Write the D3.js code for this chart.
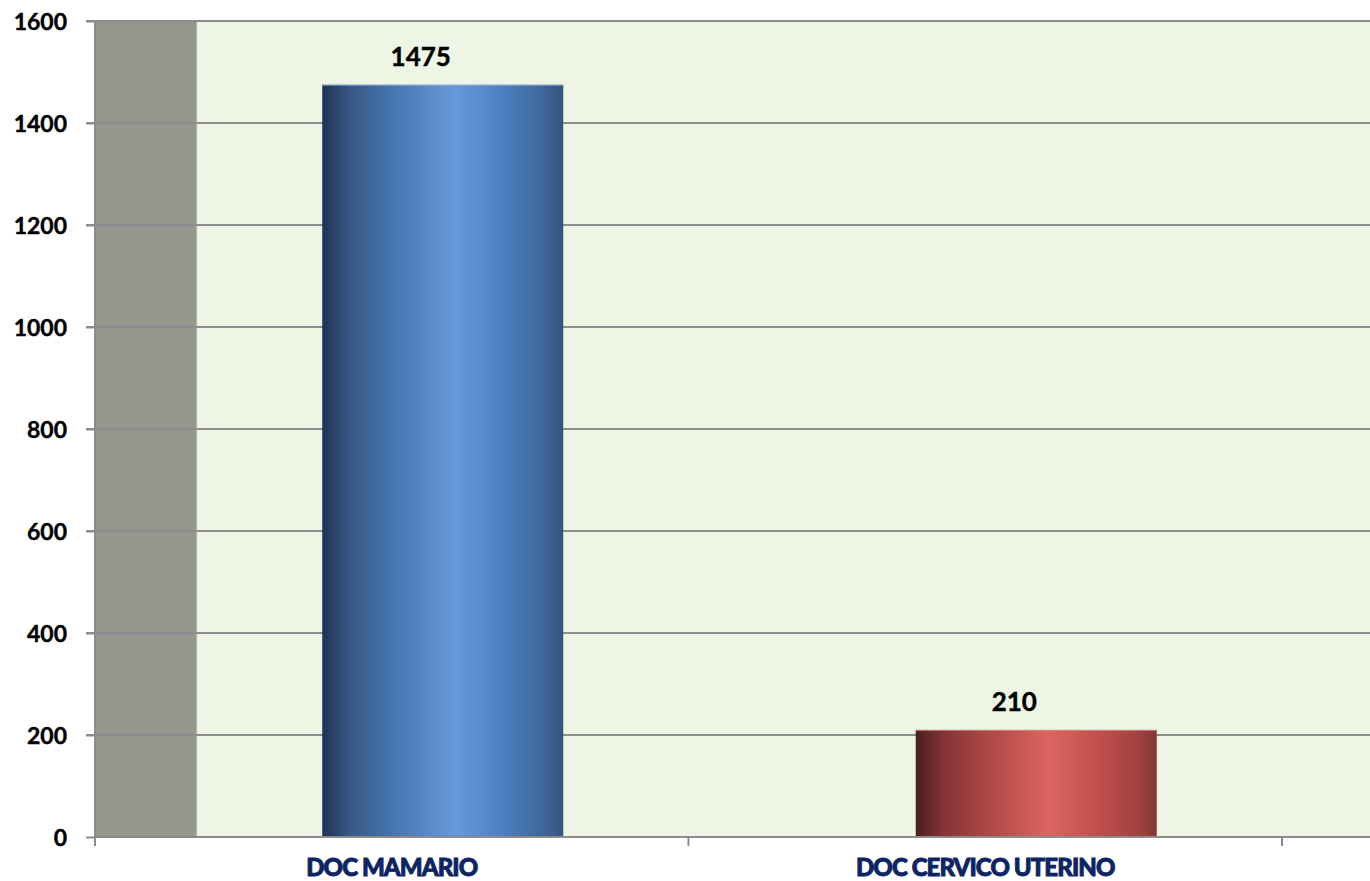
<!DOCTYPE html>
<html><head><meta charset="utf-8">
<script src="https://cdn.jsdelivr.net/npm/d3@7/dist/d3.min.js"></script>
<style>body{margin:0;background:#fff}svg{display:block}</style>
</head><body>
<script>
const categories = ["DOC MAMARIO", "DOC CERVICO UTERINO"];
const values = [1475, 210];
const yTicks = [0, 200, 400, 600, 800, 1000, 1200, 1400, 1600];

const W = 1370, H = 881;
const svg = d3.select("body").append("svg").attr("width", W).attr("height", H);
const mLeft = 95, mRight = 1282, mTop = 21, mBottom = 837;
const x = d3.scaleBand().domain(categories).range([mLeft, mRight]).paddingInner(0).paddingOuter(0);
const y = d3.scaleLinear().domain([0, 1600]).range([mBottom, mTop]);
const depth = 102; // 3D side wall width
const barW = 241;

const defs = svg.append("defs");
function grad(id, stops){
  const g = defs.append("linearGradient").attr("id", id).attr("x1","0%").attr("x2","100%").attr("y1","0%").attr("y2","0%");
  stops.forEach(s => g.append("stop").attr("offset", s[0]).attr("stop-color", s[1]));
}
grad("gBlue", [["0%","#1f3352"],["12%","#375985"],["30%","#4877b3"],["55%","#6699da"],["75%","#4c80c2"],["92%","#3f6699"],["100%","#35527a"]]);
grad("gRed", [["0%","#4a1e1e"],["12%","#853535"],["30%","#ad4846"],["55%","#dc6561"],["75%","#c24f4d"],["92%","#a24242"],["100%","#853636"]]);

// plot background
svg.append("rect").attr("x", mLeft).attr("y", mTop).attr("width", W - mLeft).attr("height", mBottom - mTop).attr("fill", "#eef5e4");
// side wall
svg.append("rect").attr("x", mLeft).attr("y", mTop).attr("width", depth).attr("height", mBottom - mTop).attr("fill", "#95978d");
svg.append("line").attr("x1", mLeft+depth).attr("x2", mLeft+depth).attr("y1", mTop).attr("y2", mBottom).attr("stroke","#d8dccf").attr("stroke-width",1);

// gridlines
svg.append("g").selectAll("line").data(yTicks.filter(d => d > 0)).join("line")
  .attr("x1", mLeft - 9).attr("x2", W).attr("y1", d => y(d)).attr("y2", d => y(d))
  .attr("stroke", "#8c8c8c").attr("stroke-width", 2);

// bars
const fills = ["url(#gBlue)", "url(#gRed)"];
const bx = i => x(categories[i]) + x.bandwidth()/2 + depth/2 - barW/2;
svg.append("g").selectAll("rect").data(values).join("rect")
  .attr("x", (d,i) => bx(i))
  .attr("y", d => y(d)).attr("width", barW).attr("height", d => mBottom - y(d))
  .attr("fill", (d,i) => fills[i]);
svg.append("g").selectAll("line").data(values).join("line")
  .attr("x1", (d,i) => bx(i)).attr("x2", (d,i) => bx(i) + barW)
  .attr("y1", d => y(d)+0.5).attr("y2", d => y(d)+0.5)
  .attr("stroke", (d,i) => i===0 ? "#8fb1df" : "#e08c88").attr("stroke-width", 1).attr("opacity",0.8);

// value labels
svg.append("g").selectAll("text").data(values).join("text")
  .attr("x", (d,i) => bx(i) + barW/2 - 22)
  .attr("y", d => y(d) - 19)
  .attr("text-anchor", "middle")
  .attr("font-family", "Lato, 'Open Sans', sans-serif").attr("font-weight", "bold").attr("font-size", 26)
  .attr("fill", "#000").attr("stroke", "#000").attr("stroke-width", 0.4).text(d => d);

// y axis
const yAxis = d3.axisLeft(y).tickValues(yTicks).tickSize(9).tickPadding(19).tickFormat(d3.format("d"));
const gy = svg.append("g").attr("transform", `translate(${mLeft},0)`).call(yAxis);
gy.select(".domain").attr("stroke", "#8c8c8c").attr("stroke-width", 2).attr("d", `M0,${mTop}V${mBottom}`);
gy.selectAll(".tick line").attr("stroke", "#8c8c8c").attr("stroke-width", 2);
gy.selectAll(".tick text").attr("font-family", "Lato, 'Open Sans', sans-serif").attr("font-weight", "bold")
  .attr("font-size", 23).attr("fill", "#000").attr("stroke", "#000").attr("stroke-width", 0.4).attr("dy", "0.36em");

// x axis
const xAxis = d3.axisBottom(x).tickSize(0).tickPadding(22);
const gx = svg.append("g").attr("transform", `translate(0,${mBottom})`).call(xAxis);
gx.select(".domain").attr("stroke", "#8c8c8c").attr("stroke-width", 2).attr("d", `M${mLeft},0H${W}`);
gx.selectAll(".tick text").attr("font-family", "Lato, 'Open Sans', sans-serif").attr("font-weight", 900)
  .attr("font-size", 24).attr("fill", "#0d2463").attr("stroke", "#0d2463").attr("stroke-width", 0.9)
  .attr("letter-spacing", "-0.9px").attr("dy", "0.71em");
// category boundary ticks
const bounds = [mLeft, ...categories.slice(1).map(c => x(c)), mRight];
svg.append("g").selectAll("line").data(bounds).join("line")
  .attr("x1", d => d).attr("x2", d => d).attr("y1", mBottom).attr("y2", mBottom + 9)
  .attr("stroke", "#8c8c8c").attr("stroke-width", 2);
</script>
</body></html>
